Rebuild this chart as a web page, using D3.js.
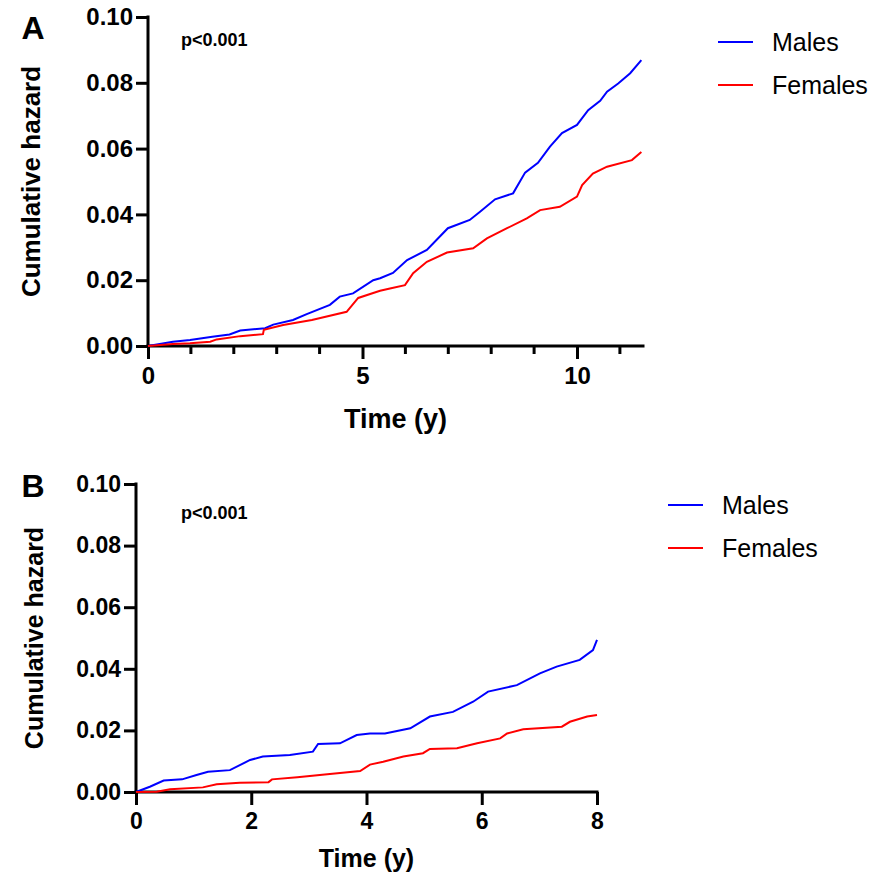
<!DOCTYPE html>
<html lang="en">
<head>
    <meta charset="UTF-8">
    <title>Cumulative hazard</title>
    <script src="https://d3js.org/d3.v7.min.js"></script>
</head>
<style>
    html,body {
        margin: 0;
        padding: 0;
        background: #fff;
    }
    text {
        font-family: "Liberation Sans", Arial, sans-serif;
    }
</style>
<body>
    <div id="svg"></div>
</body>
<script>
    // panel A: time (y) and cumulative hazard
    const maleTimeA = [0, 0.58, 0.98, 1.5, 1.9, 2.15, 2.73, 2.92, 3.38, 3.7, 4.24, 4.47, 4.78, 5.25, 5.41, 5.71, 6.04, 6.5, 6.99, 7.5, 7.74, 8.09, 8.51, 8.79, 9.09, 9.37, 9.65, 10.0, 10.26, 10.54, 10.7, 10.96, 11.24, 11.5];
    const maleHazA = [0, 0.0013, 0.0018, 0.0028, 0.0035, 0.0047, 0.0054, 0.0065, 0.0079, 0.0097, 0.0125, 0.015, 0.016, 0.020, 0.0206, 0.0222, 0.0261, 0.0292, 0.0358, 0.0383, 0.0408, 0.0446, 0.0464, 0.0527, 0.0557, 0.0606, 0.0647, 0.0672, 0.0717, 0.0745, 0.0773, 0.0798, 0.0829, 0.0869];
    const femaleTimeA = [0, 0.58, 0.98, 1.45, 1.6, 2.15, 2.68, 2.7, 3.15, 3.82, 4.63, 4.9, 5.25, 5.41, 5.64, 5.99, 6.18, 6.5, 6.97, 7.58, 7.9, 8.37, 8.83, 9.14, 9.6, 10.0, 10.12, 10.37, 10.7, 11.28, 11.5];
    const femaleHazA = [0, 0.0006, 0.0008, 0.0013, 0.002, 0.003, 0.0036, 0.0049, 0.0064, 0.0079, 0.0104, 0.0146, 0.0161, 0.0168, 0.0175, 0.0185, 0.0221, 0.0256, 0.0284, 0.0297, 0.0327, 0.0358, 0.0388, 0.0413, 0.0423, 0.0454, 0.0489, 0.0524, 0.0545, 0.0565, 0.059];

    // panel B
    const maleTimeB = [0, 0.24, 0.48, 0.8, 1.05, 1.25, 1.63, 1.98, 2.2, 2.67, 3.07, 3.16, 3.54, 3.83, 4.06, 4.32, 4.76, 5.1, 5.5, 5.85, 6.11, 6.61, 7.01, 7.3, 7.7, 7.93, 8.0];
    const maleHazB = [0, 0.0017, 0.0037, 0.0041, 0.0055, 0.0066, 0.0071, 0.0104, 0.0115, 0.012, 0.0131, 0.0156, 0.0158, 0.0185, 0.019, 0.019, 0.0207, 0.0245, 0.026, 0.0293, 0.0326, 0.0347, 0.0385, 0.0407, 0.0429, 0.0461, 0.0494];
    const femaleTimeB = [0, 0.36, 0.59, 1.16, 1.4, 1.8, 2.3, 2.36, 2.8, 3.32, 3.89, 4.06, 4.29, 4.64, 4.98, 5.1, 5.57, 5.92, 6.32, 6.44, 6.72, 7.39, 7.53, 7.83, 8.0];
    const femaleHazB = [0, 0.0001, 0.0009, 0.0015, 0.0025, 0.003, 0.0032, 0.0041, 0.0048, 0.0058, 0.0068, 0.0089, 0.0098, 0.0115, 0.0126, 0.014, 0.0142, 0.0158, 0.0174, 0.019, 0.0204, 0.0212, 0.0228, 0.0245, 0.025];

    const yTicks = [0, 0.02, 0.04, 0.06, 0.08, 0.10];
    const xTicksA = [0, 5, 10];
    const xMinorA = [1, 2, 3, 4, 6, 7, 8, 9, 11];
    const xTicksB = [0, 2, 4, 6, 8];
    const seriesNames = ['Males', 'Females'];
    const colors = ['#0000ff', '#ff0000'];

    const svg = d3.select('#svg').append('svg')
        .attr('width', 875)
        .attr('height', 876);

    function panel(cfg) {
        const g = svg.append('g');
        const x = d3.scaleLinear().domain(cfg.xDomain).range([cfg.left, cfg.right]);
        const y = d3.scaleLinear().domain([0, 0.10]).range([cfg.bottom, cfg.top]);

        // y axis
        const yAxis = g.append('g')
            .attr('transform', `translate(${cfg.left},0)`)
            .call(d3.axisLeft(y).tickValues(yTicks).tickFormat(d3.format('.2f')).tickSize(12).tickPadding(3));
        // x axis
        const xAxis = g.append('g')
            .attr('transform', `translate(0,${cfg.bottom})`)
            .call(d3.axisBottom(x).tickValues(cfg.xTicks).tickFormat(d3.format('d')).tickSize(13).tickPadding(8));
        if (cfg.xMinor) {
            xAxis.selectAll('.minor').data(cfg.xMinor).enter().append('line')
                .attr('x1', d => x(d)).attr('x2', d => x(d))
                .attr('y1', 0).attr('y2', 8)
                .attr('stroke', '#000').attr('stroke-width', 3);
        }
        [yAxis, xAxis].forEach(a => {
            a.select('.domain').attr('stroke', '#000').attr('stroke-width', 3)
                .attr('stroke-linecap', 'square');
            a.selectAll('.tick line').attr('stroke', '#000').attr('stroke-width', 3);
            a.selectAll('.tick text').attr('fill', '#000')
                .attr('font-size', cfg.tickFont + 'px').attr('font-weight', 'bold')
                .style('font-family', '"Liberation Sans", Arial, sans-serif');
        });
        // no outer ticks
        yAxis.select('.domain').attr('d', `M0,${cfg.bottom}V${cfg.top}`);
        xAxis.select('.domain').attr('d', `M${cfg.left},0H${cfg.right}`);

        // curves
        const line = d3.line()
            .x(d => x(d[0]))
            .y(d => y(d[1]))
            .curve(d3.curveLinear);
        cfg.series.forEach((s, i) => {
            g.append('path')
                .datum(d3.zip(s[0], s[1]))
                .attr('fill', 'none')
                .attr('stroke', colors[i])
                .attr('stroke-width', 2)
                .attr('d', line);
        });

        // labels
        g.append('text')
            .attr('transform', `translate(${cfg.yLabelX},${(cfg.top + cfg.bottom) / 2}) rotate(-90)`)
            .attr('text-anchor', 'middle')
            .attr('font-size', cfg.labelFont + 'px').attr('font-weight', 'bold')
            .text('Cumulative hazard');
        g.append('text')
            .attr('x', (cfg.left + cfg.right) / 2)
            .attr('y', cfg.xLabelY)
            .attr('text-anchor', 'middle')
            .attr('font-size', cfg.xLabelFont + 'px').attr('font-weight', 'bold')
            .text('Time (y)');
        g.append('text')
            .attr('x', 33).attr('y', cfg.letterY)
            .attr('text-anchor', 'middle')
            .attr('font-size', '32px').attr('font-weight', 'bold')
            .text(cfg.letter);
        g.append('text')
            .attr('x', 181).attr('y', cfg.pY)
            .attr('font-size', '18px').attr('font-weight', 'bold')
            .text('p<0.001');

        // legend
        seriesNames.forEach((n, i) => {
            const ly = cfg.legendY + i * 43;
            g.append('line')
                .attr('x1', cfg.legendX).attr('x2', cfg.legendX + 35)
                .attr('y1', ly).attr('y2', ly)
                .attr('stroke', colors[i]).attr('stroke-width', 2);
            g.append('text')
                .attr('x', cfg.legendX + 54).attr('y', ly)
                .attr('dy', '0.35em')
                .attr('font-size', '25px')
                .text(n);
        });
    }

    panel({
        letter: 'A', letterY: 39, pY: 46,
        left: 148, right: 643, top: 17, bottom: 346,
        xDomain: [0, (643 - 148) / (577 - 148) * 10], xTicks: xTicksA, xMinor: xMinorA,
        tickFont: 24, labelFont: 26, xLabelFont: 27, yLabelX: 40, xLabelY: 428,
        legendX: 718, legendY: 42,
        series: [[maleTimeA, maleHazA], [femaleTimeA, femaleHazA]]
    });

    panel({
        letter: 'B', letterY: 497, pY: 519,
        left: 136, right: 597, top: 484, bottom: 792,
        xDomain: [0, 8], xTicks: xTicksB,
        tickFont: 23, labelFont: 25, xLabelFont: 25, yLabelX: 43, xLabelY: 867,
        legendX: 668, legendY: 505,
        series: [[maleTimeB, maleHazB], [femaleTimeB, femaleHazB]]
    });
</script>
</html>
